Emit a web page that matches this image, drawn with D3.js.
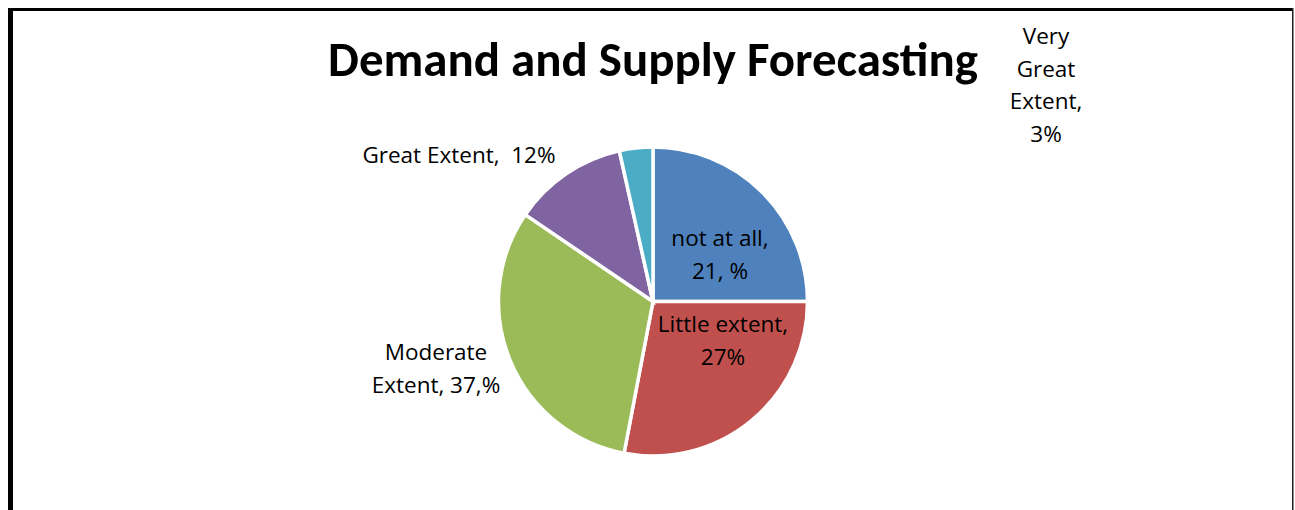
<!DOCTYPE html>
<html><head><meta charset="utf-8">
<script src="https://cdn.jsdelivr.net/npm/d3@7"></script>
<style>html,body{margin:0;padding:0;background:#fff;overflow:hidden}</style>
</head><body>
<svg id="chart" width="1295" height="510"></svg>
<script>
// ---- data ----
const categories = ["not at all", "Little extent", "Moderate Extent", "Great Extent", "Very Great Extent"];
const values = [25, 28, 31.5, 12, 3.5];           // slice sizes as drawn
const labelLines = [
  ["not at all,", "21, %"],
  ["Little extent,", "27%"],
  ["Moderate", "Extent, 37,%"],
  ["Great Extent,  12%"],
  ["Very", "Great", "Extent,", "3%"]
];
const colors = ["#4F81BD", "#C0504D", "#9BBB59", "#8064A2", "#4BACC6"];
const title = "Demand and Supply Forecasting";

// ---- layout ----
const W = 1295, H = 510;
const cx = 653, cy = 301.5, R = 154.5;
const labelPos = [[720, 238], [723, 324], [436, 352], [459, 155], [1046, 36]];
const lineH = 32.5;
const titleFont = "Carlito, Calibri, Lato, sans-serif";
const font = "'Open Sans', sans-serif";

const svg = d3.select("#chart");
svg.append("rect").attr("x",0).attr("y",0).attr("width",W).attr("height",H).attr("fill","#fff");

// frame
svg.append("rect").attr("x",8).attr("y",8).attr("width",1285).attr("height",3).attr("fill","#000");
svg.append("rect").attr("x",8).attr("y",8).attr("width",5).attr("height",H).attr("fill","#000");
svg.append("rect").attr("x",1292).attr("y",8).attr("width",1.5).attr("height",H).attr("fill","#222");

// title
const t = svg.append("text").attr("x", 653).attr("y", 76)
  .attr("text-anchor","middle").attr("font-family", titleFont).attr("font-weight","bold")
  .attr("font-size", 40).attr("fill","#000").text(title);
const tw = t.node().getComputedTextLength();
t.attr("font-size", 40 * 650 / tw);

// pie
const pie = d3.pie().sort(null).value(d => d).startAngle(0).endAngle(2*Math.PI);
const arc = d3.arc().innerRadius(0).outerRadius(R);
const g = svg.append("g").attr("transform", `translate(${cx},${cy})`);
g.selectAll("path").data(pie(values)).join("path")
  .attr("d", arc).attr("fill", (d,i) => colors[i])
  .attr("stroke", "#fff").attr("stroke-width", 3.5).attr("stroke-linejoin","miter");

// labels
labelLines.forEach((lines, i) => {
  const txt = svg.append("text").attr("font-family", font).attr("font-size", 22.5)
    .attr("fill", "#000").attr("text-anchor", "middle");
  lines.forEach((ln, j) => {
    txt.append("tspan").attr("x", labelPos[i][0]).attr("y", labelPos[i][1] + j*lineH + 8)
      .style("white-space","pre").text(ln);
  });
});
</script>
</body></html>
